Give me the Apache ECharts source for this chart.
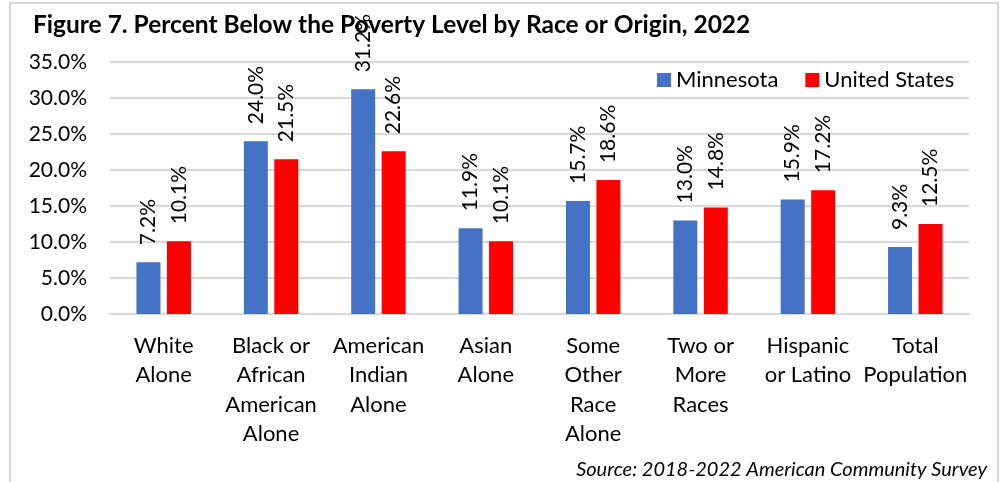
<!DOCTYPE html>
<html>
<head>
<meta charset="utf-8">
<script src="https://cdn.jsdelivr.net/npm/echarts@6/dist/echarts.min.js"></script>
<style>
  html, body { margin: 0; padding: 0; background: #fff; }
  #chart { width: 1002px; height: 482px; }
</style>
</head>
<body>
<div id="chart"></div>
<script>
// Poverty rates by race or origin, 2022
const categories = [
  'White\nAlone',
  'Black or\nAfrican\nAmerican\nAlone',
  'American\nIndian\nAlone',
  'Asian\nAlone',
  'Some\nOther\nRace\nAlone',
  'Two or\nMore\nRaces',
  'Hispanic\nor Latino',
  'Total\nPopulation'
];
const minnesota = [7.2, 24.0, 31.2, 11.9, 15.7, 13.0, 15.9, 9.3];
const unitedStates = [10.1, 21.5, 22.6, 10.1, 18.6, 14.8, 17.2, 12.5];
const yTicks = { min: 0, max: 35, interval: 5 };

const FONT = 'Lato, "Open Sans", sans-serif';

const valueLabel = {
  show: true,
  position: 'top',
  rotate: 90,
  align: 'left',
  verticalAlign: 'middle',
  distance: 17,
  fontFamily: FONT,
  fontSize: 21,
  color: '#000',
  formatter: p => p.value.toFixed(1) + '%'
};

const chart = echarts.init(document.getElementById('chart'), null, { renderer: 'canvas' });
chart.setOption({
  animation: false,
  backgroundColor: '#fff',
  title: {
    text: 'Figure 7. Percent Below the Poverty Level by Race or Origin, 2022',
    left: 28,
    top: 8,
    textStyle: { fontFamily: FONT, fontSize: 24.5, fontWeight: 'bold', color: '#000' },
    z: 1
  },
  legend: {
    left: 652,
    top: 64,
    icon: 'rect',
    itemWidth: 14,
    itemHeight: 14,
    itemGap: 27,
    textStyle: { fontFamily: FONT, fontSize: 22, color: '#000' },
    data: ['Minnesota', 'United States']
  },
  grid: { left: 110, right: 33, top: 62, bottom: 168, containLabel: false },
  xAxis: {
    type: 'category',
    data: categories,
    axisLine: { show: true, lineStyle: { color: '#d9d9d9', width: 2 } },
    axisTick: { show: false },
    axisLabel: {
      interval: 0,
      margin: 17,
      fontFamily: FONT,
      fontSize: 22,
      lineHeight: 29.5,
      color: '#000',
      verticalAlign: 'top'
    }
  },
  yAxis: {
    type: 'value',
    min: yTicks.min,
    max: yTicks.max,
    interval: yTicks.interval,
    axisLine: { show: false },
    axisTick: { show: false },
    splitLine: { lineStyle: { color: '#d9d9d9', width: 2 } },
    axisLabel: {
      margin: 23,
      fontFamily: FONT,
      fontSize: 21,
      color: '#000',
      formatter: v => v.toFixed(1) + '%'
    }
  },
  series: [
    {
      name: 'Minnesota',
      type: 'bar',
      data: minnesota,
      barWidth: 24,
      barGap: '27%',
      itemStyle: { color: '#4472c4' },
      label: valueLabel,
      z: 3
    },
    {
      name: 'United States',
      type: 'bar',
      data: unitedStates,
      barWidth: 24,
      itemStyle: { color: '#ff0000' },
      label: valueLabel,
      z: 3
    }
  ],
  graphic: [
    {
      type: 'rect',
      shape: { x: 10, y: 3, width: 988, height: 500 },
      style: { fill: 'none', stroke: '#d9d9d9', lineWidth: 2 },
      silent: true,
      z: 0
    },
    {
      type: 'text',
      right: 15,
      top: 460,
      style: {
        text: 'Source: 2018-2022 American Community Survey',
        fontFamily: FONT,
        fontSize: 20,
        fontStyle: 'italic',
        fill: '#000'
      }
    }
  ]
});
</script>
</body>
</html>
